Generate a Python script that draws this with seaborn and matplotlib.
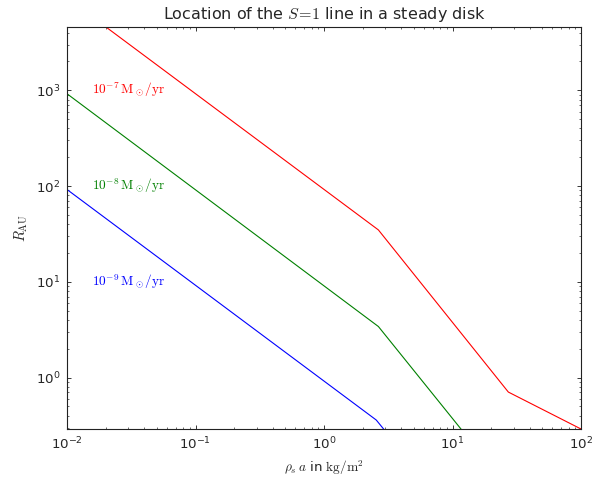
import matplotlib
matplotlib.use("Agg")
import matplotlib.pyplot as plt
import numpy as np
import pandas as pd
import seaborn as sns

# Breakpoints of the S=1 line (rho_s a in kg/m^2, R in AU) for each accretion rate
rho_a = [0.01, 2.65, 27.2, 100.0]
rho_a_low = [0.01, 2.55, 27.0, 100.0]
r_1e7 = [9200.0, 34.8, 0.705, 0.29]
r_1e8 = [920.0, 3.41, 0.0705, 0.029]
r_1e9 = [92.0, 0.36, 0.0075, 0.003]

labels = [r"$10^{-7}\,\mathrm{M}_\odot/\mathrm{yr}$",
          r"$10^{-8}\,\mathrm{M}_\odot/\mathrm{yr}$",
          r"$10^{-9}\,\mathrm{M}_\odot/\mathrm{yr}$"]
label_x = [0.0157, 0.0157, 0.0157]
label_y = [1000.0, 100.0, 10.0]
colors = ["#ff0000", "#008000", "#0000ff"]

sns.set_style("ticks")
plt.rcParams.update({
    "font.family": ["DejaVu Sans"],
    "mathtext.fontset": "cm",
    "xtick.direction": "in",
    "ytick.direction": "in",
    "xtick.top": True,
    "ytick.right": True,
    "xtick.major.size": 4,
    "ytick.major.size": 4,
    "xtick.minor.size": 2,
    "ytick.minor.size": 2,
    "xtick.major.pad": 6,
    "ytick.major.pad": 6,
    "axes.edgecolor": "#222222",
    "axes.linewidth": 1.0,
})

df = pd.concat([
    pd.DataFrame({"rho_a": rho_a, "R": r_1e7, "rate": "1e-7"}),
    pd.DataFrame({"rho_a": rho_a, "R": r_1e8, "rate": "1e-8"}),
    pd.DataFrame({"rho_a": rho_a_low, "R": r_1e9, "rate": "1e-9"}),
], ignore_index=True)

fig = plt.figure(figsize=(611 / 80, 482 / 80), dpi=80)
ax = fig.add_axes([67 / 611, 1 - 429 / 482, (581 - 67) / 611, (429 - 27) / 482])
ax.set_xscale("log")
ax.set_yscale("log")

sns.lineplot(data=df, x="rho_a", y="R", hue="rate", palette=colors,
             estimator=None, sort=False, linewidth=1.0, legend=False, ax=ax)

for lx, ly, txt, c in zip(label_x, label_y, labels, colors):
    ax.text(lx, ly, txt, color=c, fontsize=12, ha="left", va="center")

ax.set_xlim(0.01, 100)
ax.set_ylim(0.29, 4580)
ax.tick_params(axis="both", which="major", labelsize=12)
ax.set_title(r"Location of the $S\!=\!1$ line in a steady disk", fontsize=14.4, pad=7)
ax.set_xlabel(r"$\rho_s\,a$ in $\mathrm{kg/m^2}$", fontsize=12, labelpad=6)
ax.set_ylabel(r"$R_\mathrm{AU}$", fontsize=13, labelpad=5)

fig.savefig("out.png", dpi=80)
